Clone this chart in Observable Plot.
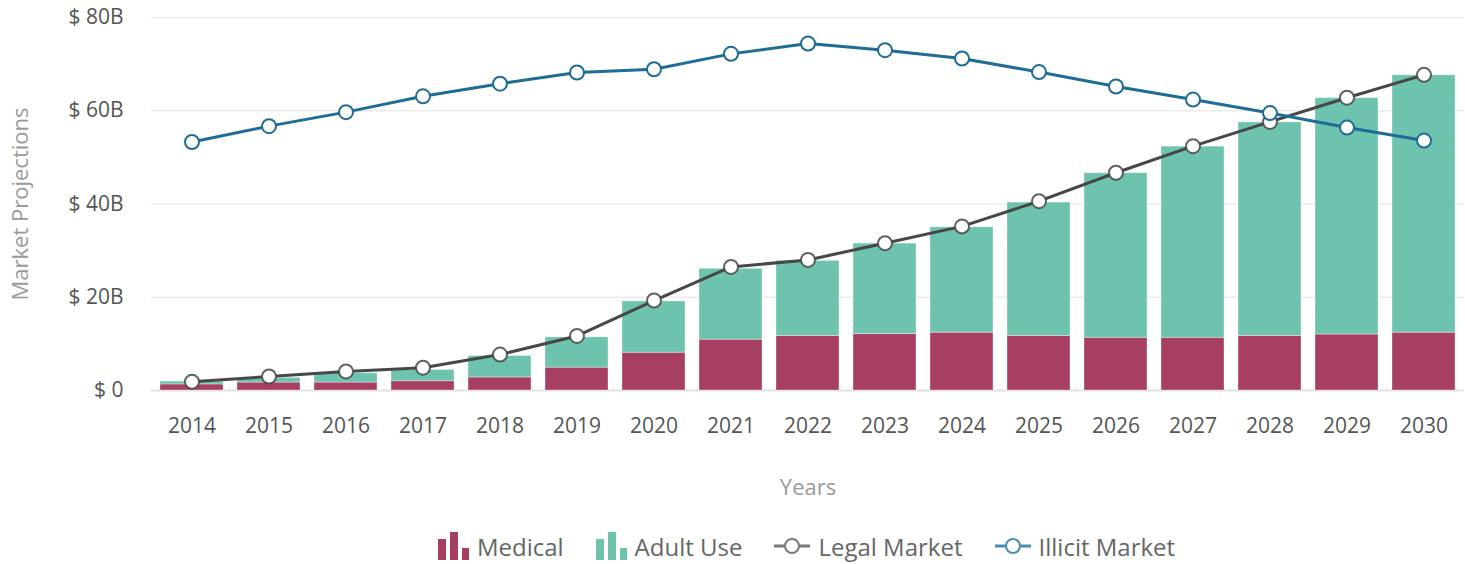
<!DOCTYPE html>
<html>
<head>
<meta charset="utf-8">
<script src="https://cdn.jsdelivr.net/npm/d3@7"></script>
<script src="https://cdn.jsdelivr.net/npm/@observablehq/plot@0.6"></script>
<style>
  html, body { margin: 0; padding: 0; background: #fff; }
  body { width: 1465px; height: 564px; overflow: hidden; font-family: "Open Sans", sans-serif; }
  #legend { display: flex; justify-content: center; align-items: center; height: 36px; padding-top: 18px; padding-left: 148px; font-size: 24px; color: #666; }
  .item { display: flex; align-items: center; margin: 0 16px; }
  .item svg { margin-right: 8px; }
</style>
</head>
<body>
<div id="chart"></div>
<div id="legend"></div>
<script>
const years = ["2014","2015","2016","2017","2018","2019","2020","2021","2022","2023","2024","2025","2026","2027","2028","2029","2030"];
const medical = [1.3,1.7,1.7,2.0,2.8,4.9,8.1,10.9,11.7,12.1,12.4,11.7,11.3,11.3,11.7,12.0,12.4];
const adultUse = [0.6,1.0,2.0,2.4,4.6,6.5,11.0,15.2,16.1,19.4,22.6,28.6,35.3,41.0,45.8,50.7,55.2];
const legalMarket = [1.9,3.0,4.1,4.9,7.7,11.7,19.3,26.5,28.0,31.6,35.2,40.6,46.7,52.4,57.6,62.8,67.7];
const illicitMarket = [53.3,56.7,59.7,63.1,65.8,68.2,68.9,72.2,74.4,73.0,71.2,68.3,65.2,62.4,59.5,56.4,53.6];
const yTicks = [0,20,40,60,80];
const seriesNames = ["Medical","Adult Use","Legal Market","Illicit Market"];
const colors = {"Medical":"#a63f62","Adult Use":"#6dc3ae","Legal Market":"#474747","Illicit Market":"#1f6d97"};

const bars = [];
years.forEach((y,i) => {
  bars.push({year:y, series:"Medical", value:medical[i]});
  bars.push({year:y, series:"Adult Use", value:adultUse[i]});
});
const legal = years.map((y,i) => ({year:y, value:legalMarket[i]}));
const illicit = years.map((y,i) => ({year:y, value:illicitMarket[i]}));

const plot = Plot.plot({
  width: 1465,
  height: 510,
  marginLeft: 151,
  marginRight: 1,
  marginTop: 17,
  marginBottom: 120,
  style: {fontFamily: "'Open Sans', sans-serif", fontSize: "21px", color: "#555", background: "#fff"},
  x: {type: "band", domain: years, paddingInner: 0.18, paddingOuter: 0.09},
  y: {domain: [0,80]},
  color: {domain: ["Medical","Adult Use"], range: [colors["Medical"], colors["Adult Use"]]},
  marks: [
    Plot.gridY(yTicks, {stroke: "#ebebeb", strokeOpacity: 1, strokeWidth: 1.5}),
    Plot.ruleY([0], {stroke: "#e3e3e3", strokeWidth: 2}),
    Plot.barY(bars, Plot.stackY({x: "year", y: "value", fill: "series", order: ["Medical","Adult Use"], stroke: "white", strokeOpacity: 0.35, strokeWidth: 1, inset: 0})),
    Plot.line(legal, {x: "year", y: "value", stroke: colors["Legal Market"], strokeWidth: 3}),
    Plot.dot(legal, {x: "year", y: "value", r: 7, fill: "white", stroke: colors["Legal Market"], strokeWidth: 2, strokeOpacity: 0.85}),
    Plot.line(illicit, {x: "year", y: "value", stroke: colors["Illicit Market"], strokeWidth: 3}),
    Plot.dot(illicit, {x: "year", y: "value", r: 7, fill: "white", stroke: colors["Illicit Market"], strokeWidth: 2}),
    Plot.axisX({tickSize: 0, tickPadding: 28, fontSize: 21, fill: "#555", label: null}),
    Plot.axisY({ticks: yTicks, tickSize: 0, tickPadding: 28, fontSize: 21, fill: "#555", tickFormat: d => d === 0 ? "$ 0" : `$ ${d}B`, label: null}),
    Plot.text(["Years"], {frameAnchor: "bottom", dy: 104, text: d => d, fontSize: 22, fill: "#9a9a9a"}),
    Plot.text(["Market Projections"], {frameAnchor: "left", textAnchor: "middle", dx: -131, rotate: -90, text: d => d, fontSize: 22, fill: "#9a9a9a"})
  ]
});
document.getElementById("chart").appendChild(plot);

// legend
const legend = document.getElementById("legend");
function barIcon(c) {
  return `<svg width="31" height="28" viewBox="0 0 31 28"><rect x="0" y="7" width="8" height="21" fill="${c}"/><rect x="12" y="0" width="8" height="28" fill="${c}"/><rect x="24" y="16" width="7" height="12" fill="${c}"/></svg>`;
}
function lineIcon(c) {
  return `<svg width="36" height="20" viewBox="0 0 36 20"><line x1="0" y1="10" x2="36" y2="10" stroke="${c}" stroke-width="3"/><circle cx="18" cy="10" r="7" fill="white" stroke="${c}" stroke-width="2"/></svg>`;
}
const legendColors = {"Medical":colors["Medical"],"Adult Use":colors["Adult Use"],"Legal Market":"#7a7a7a","Illicit Market":"#4a8cb0"};
seriesNames.forEach((name,i) => {
  const el = document.createElement("div");
  el.className = "item";
  el.innerHTML = (i < 2 ? barIcon(legendColors[name]) : lineIcon(legendColors[name])) + `<span>${name}</span>`;
  legend.appendChild(el);
});
</script>
</body>
</html>
